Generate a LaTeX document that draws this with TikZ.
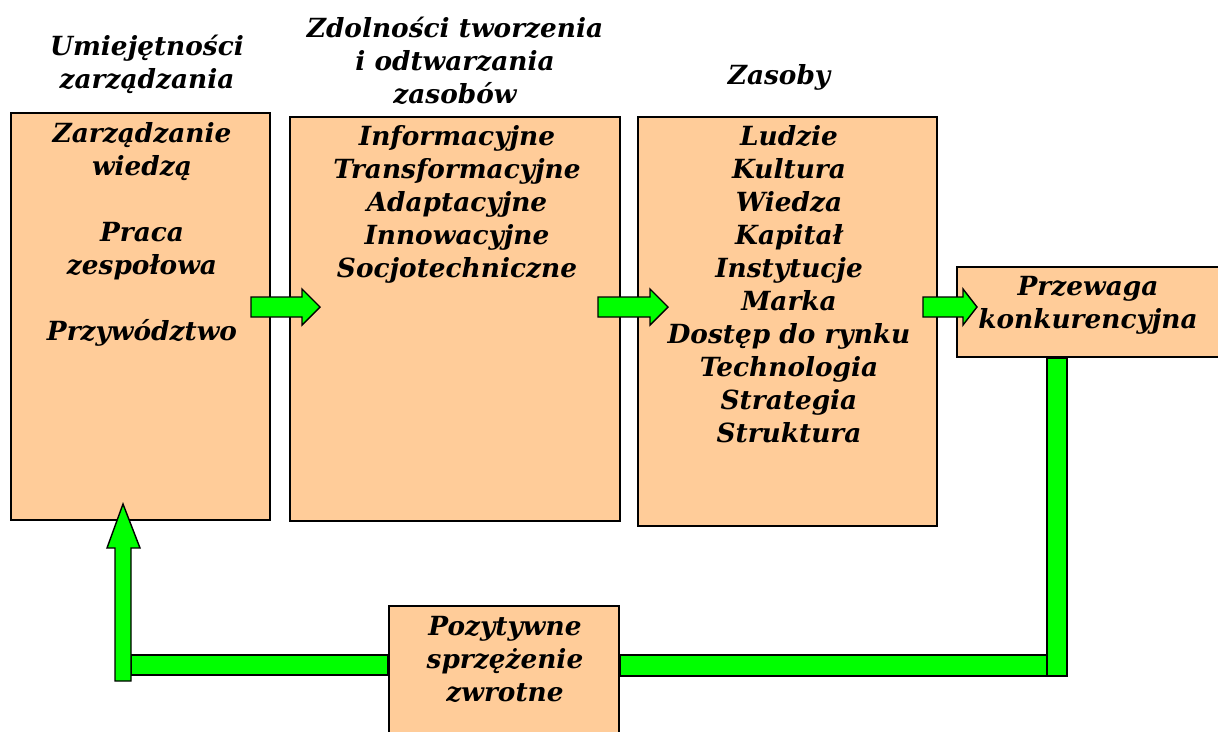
\documentclass[tikz,border=0pt]{standalone}
\usepackage{fontspec}
\setmainfont{DejaVu Serif}
\usetikzlibrary{positioning,fit,calc}
\definecolor{peach}{RGB}{255,204,153}
\definecolor{brightgreen}{RGB}{0,255,0}
\tikzset{
  box/.style={draw=black, line width=1.1pt, fill=peach, inner sep=0pt},
  boxtext/.style={align=center, anchor=north, inner sep=0pt,
    font=\fontsize{15}{18.8}\selectfont\bfseries\itshape},
  greenarrow/.style={draw=black, line width=0.8pt, fill=brightgreen, line join=miter},
}
% block arrow pointing right: #1 tail point, #2 length, #3 head length
\newcommand{\rightblock}[3]{%
  \draw[greenarrow] (#1) ++(0,-10) -- ++({#2-#3},0) -- ++(0,-8) -- ++(#3,18)
    -- ++(-#3,18) -- ++(0,-8) -- ++({-(#2-#3)},0) -- cycle;}

\begin{document}
\begin{tikzpicture}[x=0.02cm,y=-0.02cm]
\useasboundingbox (0,0) rectangle (1218,731);

% headers
\node[boxtext] (skillhead) at (147,35) {Umiejętności\\zarządzania};
\node[boxtext] (capabhead) at (455,17) {Zdolności tworzenia\\i odtwarzania\\zasobów};
\node[boxtext] (reshead) at (779,64) {Zasoby};

% boxes
\node[box, fit={(11,113) (270,520)}] (skill) {};
\node[box, fit={(290,117) (620,521)}] (capab) {};
\node[box, fit={(638,117) (937,526)}] (res) {};
\node[box, fit={(957,267) (1222,357)}] (gain) {};
\node[box, fit={(389,606) (619,745)}] (loop) {};

% box texts
\node[boxtext] (skilltxt) at (142,122)
  {Zarządzanie\\wiedzą\\[18.8pt]Praca\\zespołowa\\[18.8pt]Przywództwo};
\node[boxtext] (capabtxt) at (457,125)
  {Informacyjne\\Transformacyjne\\Adaptacyjne\\Innowacyjne\\Socjotechniczne};
\node[boxtext] (restxt) at (789,125)
  {Ludzie\\Kultura\\Wiedza\\Kapitał\\Instytucje\\Marka\\Dostęp do rynku\\Technologia\\Strategia\\Struktura};
\node[boxtext] (gaintxt) at (1088,276) {Przewaga\\konkurencyjna};
\node[boxtext] (looptxt) at (505,616) {Pozytywne\\sprzężenie\\zwrotne};

% arrows between boxes
\coordinate (t1) at (251,307);
\coordinate (t2) at (598,307);
\coordinate (t3) at (923,307);
\rightblock{t1}{69}{18}
\rightblock{t2}{70}{18}
\rightblock{t3}{54}{14}

% feedback loop
\draw[greenarrow] (gain.south -| 1047,0) rectangle (1067,676);
\draw[greenarrow] (loop.east |- 0,655) rectangle (1047,676);
\draw[greenarrow] (131,655) rectangle (loop.west |- 0,675);
\draw[greenarrow] (115,681) -- (131,681) -- (131,548) -- (140,548) -- (123,504)
  -- (107,548) -- (115,548) -- cycle;
\end{tikzpicture}
\end{document}
